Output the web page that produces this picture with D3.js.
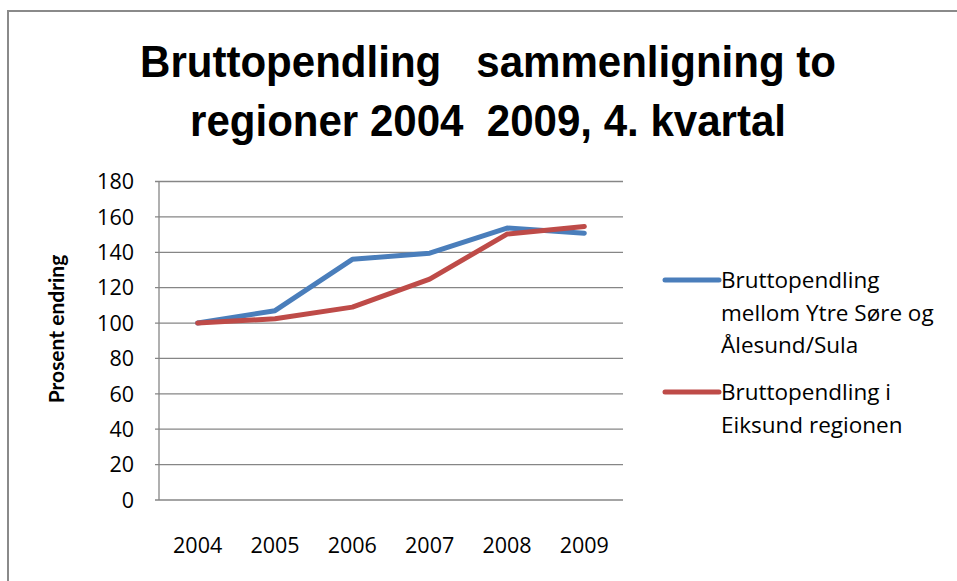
<!DOCTYPE html>
<html>
<head>
<meta charset="utf-8">
<script src="https://cdn.jsdelivr.net/npm/d3@7.9.0/dist/d3.min.js"></script>
<style>
  body { margin: 0; background: #fff; }
  svg { display: block; }
  .label { font-family: "Open Sans", Lato, sans-serif; fill: #000; }
</style>
</head>
<body>
<svg id="chart" width="957" height="581"></svg>
<script>
const years = ['2004', '2005', '2006', '2007', '2008', '2009'];
const ytreSore = [100, 107, 136, 139.5, 153.7, 150.8];
const eiksund = [100, 102.4, 109, 124.8, 150.3, 154.6];
const yTicks = [0, 20, 40, 60, 80, 100, 120, 140, 160, 180];
const seriesNames = [
    ['Bruttopendling', 'mellom Ytre Søre og', 'Ålesund/Sula'],
    ['Bruttopendling i', 'Eiksund regionen']
];
const titleLines = ['Bruttopendling   sammenligning to', 'regioner 2004  2009, 4. kvartal'];
const colors = ['#4a7ebb', '#be4b48'];

const svg = d3.select('#chart');

// outer frame (cut by the window on the right and bottom)
svg.append('rect')
    .attr('x', 8).attr('y', 11)
    .attr('width', 1000).attr('height', 700)
    .attr('fill', 'none')
    .attr('stroke', '#8a8a8a')
    .attr('stroke-width', 2);

const plot = { left: 159, right: 623, top: 181.5, bottom: 500 };

const x = d3.scalePoint()
    .domain(years)
    .range([plot.left, plot.right])
    .padding(0.5);

const y = d3.scaleLinear()
    .domain([0, 180])
    .range([plot.bottom, plot.top]);

// gridlines
svg.append('g')
    .selectAll('line')
    .data(yTicks)
    .join('line')
    .attr('x1', plot.left - 4)
    .attr('x2', plot.right)
    .attr('y1', (d) => y(d))
    .attr('y2', (d) => y(d))
    .attr('stroke', '#868686')
    .attr('stroke-width', 1.3);

// y axis line
svg.append('line')
    .attr('x1', plot.left).attr('x2', plot.left)
    .attr('y1', plot.top).attr('y2', plot.bottom)
    .attr('stroke', '#868686')
    .attr('stroke-width', 1.3);

// y tick labels
svg.append('g')
    .selectAll('text')
    .data(yTicks)
    .join('text')
    .attr('class', 'label')
    .attr('x', 134)
    .attr('y', (d) => y(d))
    .attr('dy', '0.36em')
    .attr('text-anchor', 'end')
    .attr('font-size', 21.5)
    .text((d) => d);

// x tick labels
svg.append('g')
    .selectAll('text')
    .data(years)
    .join('text')
    .attr('class', 'label')
    .attr('x', (d) => x(d))
    .attr('y', 553)
    .attr('text-anchor', 'middle')
    .attr('font-size', 21.5)
    .text((d) => d);

// y axis title
svg.append('text')
    .attr('transform', 'translate(64,329) rotate(-90)')
    .attr('text-anchor', 'middle')
    .attr('font-family', 'Lato, sans-serif')
    .attr('font-size', 21)
    .attr('font-weight', 'bold')
    .text('Prosent endring');

// lines
const line = d3.line()
    .x((d, i) => x(years[i]))
    .y((d) => y(d));

[ytreSore, eiksund].forEach((values, idx) => {
    svg.append('path')
        .datum(values)
        .attr('d', line)
        .attr('fill', 'none')
        .attr('stroke', colors[idx])
        .attr('stroke-width', 5)
        .attr('stroke-linejoin', 'round')
        .attr('stroke-linecap', 'round');
});

// legend
const legendY = [280, 392];
seriesNames.forEach((lines, idx) => {
    svg.append('line')
        .attr('x1', 665).attr('x2', 719)
        .attr('y1', legendY[idx]).attr('y2', legendY[idx])
        .attr('stroke', colors[idx])
        .attr('stroke-width', 5)
        .attr('stroke-linecap', 'round');
    const t = svg.append('text')
        .attr('class', 'label')
        .attr('y', legendY[idx])
        .attr('font-size', 22.5);
    lines.forEach((l, i) => {
        t.append('tspan')
            .attr('x', 721)
            .attr('dy', i === 0 ? '0.36em' : 32.5)
            .text(l);
    });
});

// title, squeezed a little horizontally like the original condensed face
svg.append('g')
    .attr('transform', 'translate(488,0) scale(0.945,1)')
    .selectAll('text')
    .data(titleLines)
    .join('text')
    .attr('x', 0)
    .attr('y', (d, i) => 77 + i * 59)
    .attr('text-anchor', 'middle')
    .attr('font-family', '"Liberation Sans", Arial, sans-serif')
    .attr('font-weight', 'bold')
    .attr('font-size', 44.5)
    .style('white-space', 'pre')
    .text((d) => d);
</script>
</body>
</html>
